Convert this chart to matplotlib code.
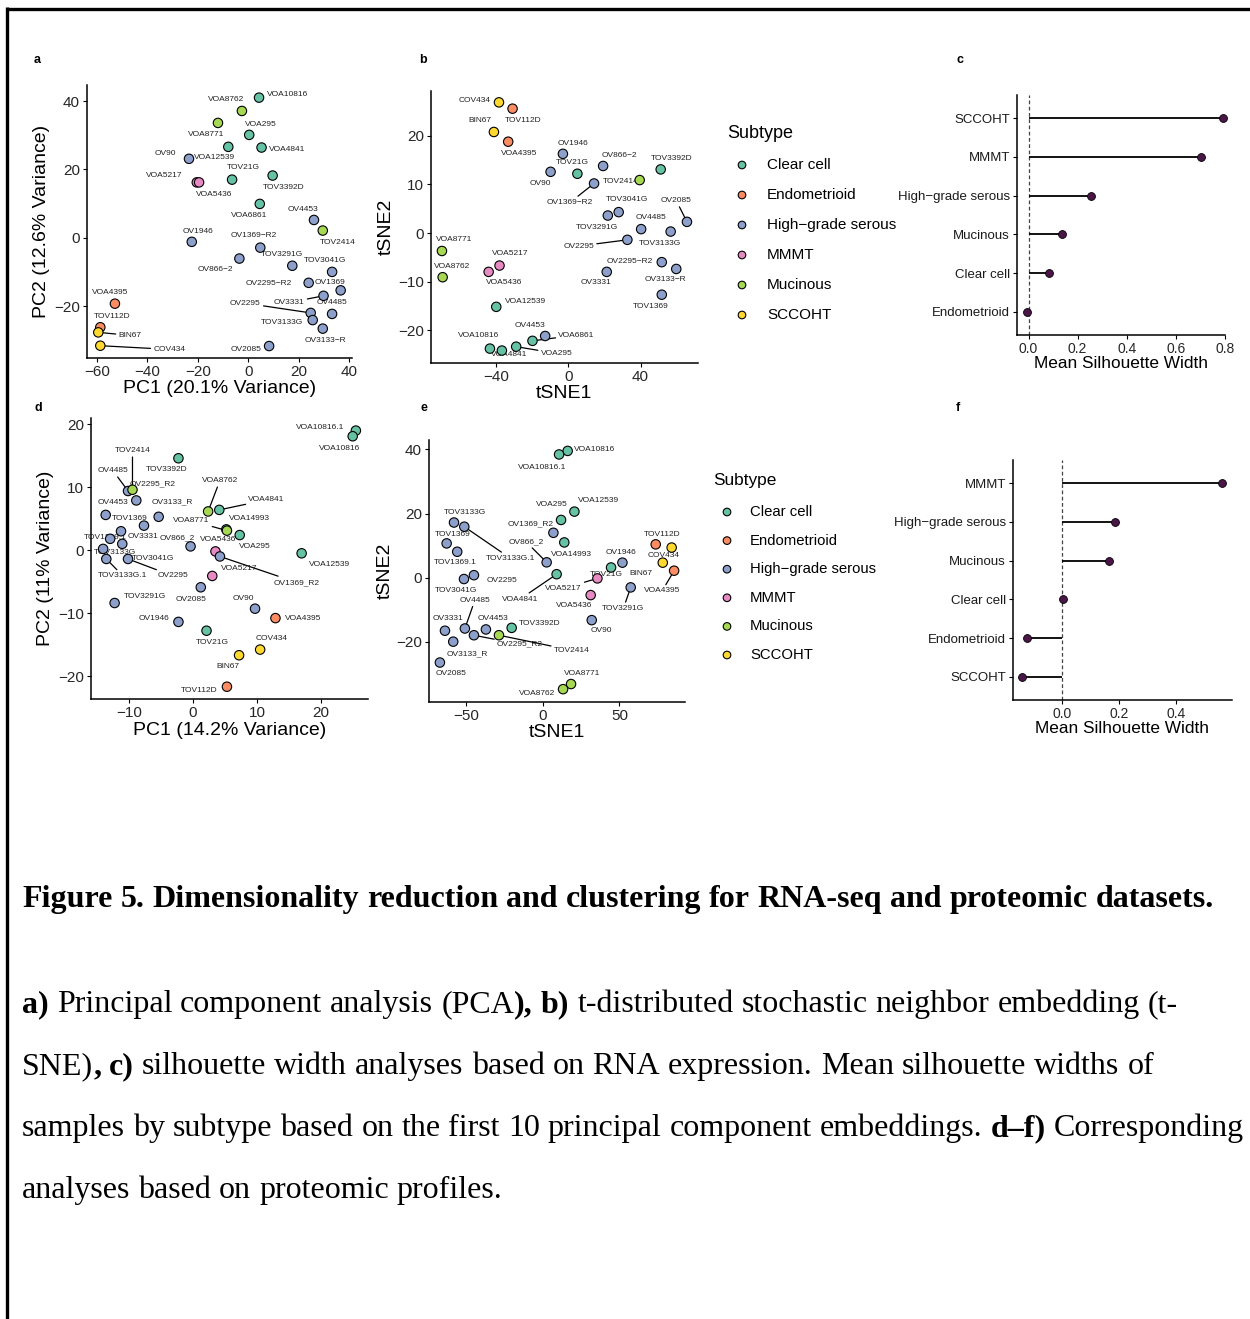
import matplotlib
matplotlib.use('Agg')
import matplotlib.pyplot as plt

plt.rcParams['font.family'] = ['Liberation Sans', 'DejaVu Sans']
plt.rcParams['axes.unicode_minus'] = True

# ---------------- data ----------------
SUBTYPES = ['Clear cell', 'Endometrioid', 'High−grade serous', 'MMMT', 'Mucinous', 'SCCOHT']
CODES = ['CC', 'EN', 'HGS', 'MM', 'MU', 'SC']
PALETTE = ['#66C2A5', '#FC8D62', '#8DA0CB', '#E78AC3', '#A6D854', '#FFD92F']

# panel a: RNA PCA
a_names = ['VOA10816', 'VOA8762', 'VOA8771', 'VOA295', 'VOA12539', 'VOA4841', 'OV90', 'VOA5217',
           'VOA5436', 'TOV21G', 'TOV3392D', 'VOA6861', 'OV4453', 'TOV2414', 'OV1946', 'OV1369−R2',
           'OV866−2', 'TOV3291G', 'TOV3041G', 'OV2295−R2', 'OV1369', 'OV3331', 'OV2295', 'OV4485',
           'TOV3133G', 'OV3133−R', 'OV2085', 'VOA4395', 'TOV112D', 'BIN67', 'COV434']
a_type = ['CC', 'MU', 'MU', 'CC', 'CC', 'CC', 'HGS', 'MM', 'MM', 'CC', 'CC', 'CC', 'HGS', 'MU', 'HGS',
          'HGS', 'HGS', 'HGS', 'HGS', 'HGS', 'HGS', 'HGS', 'HGS', 'HGS', 'HGS', 'HGS', 'HGS', 'EN',
          'EN', 'SC', 'SC']
a_pc1 = [4.3, -2.5, -12.0, 0.4, -7.9, 5.3, -23.5, -20.4, -19.5, -6.4, 9.7, 4.6, 26.1, 29.6, -22.4,
         4.8, -3.5, 17.5, 33.3, 24.0, 36.7, 29.9, 24.8, 33.3, 25.6, 29.6, 8.3, -52.9, -58.7, -59.5, -58.7]
a_pc2 = [41.0, 37.1, 33.6, 30.1, 26.6, 26.4, 23.1, 16.2, 16.2, 17.0, 18.2, 9.9, 5.2, 2.1, -1.2,
         -2.9, -6.1, -8.2, -10.0, -13.2, -15.4, -17.0, -22.0, -22.3, -24.1, -26.6, -31.7, -19.3,
         -26.2, -27.7, -31.6]

# panel b: RNA t-SNE
b_names = ['COV434', 'TOV112D', 'BIN67', 'VOA4395', 'OV1946', 'OV90', 'TOV21G', 'OV866−2',
           'OV1369−R2', 'TOV2414', 'TOV3392D', 'TOV3041G', 'TOV3291G', 'OV2085', 'OV4485',
           'TOV3133G', 'OV2295', 'OV2295−R2', 'OV3133−R', 'OV3331', 'TOV1369', 'VOA8771',
           'VOA8762', 'VOA5217', 'VOA5436', 'VOA12539', 'OV4453', 'VOA6861', 'VOA10816',
           'VOA4841', 'VOA295']
b_type = ['SC', 'EN', 'SC', 'EN', 'HGS', 'HGS', 'CC', 'HGS', 'HGS', 'MU', 'CC', 'HGS', 'HGS', 'HGS',
          'HGS', 'HGS', 'HGS', 'HGS', 'HGS', 'HGS', 'HGS', 'MU', 'MU', 'MM', 'MM', 'CC', 'HGS', 'CC',
          'CC', 'CC', 'CC']
b_t1 = [-38.2, -30.7, -41.0, -33.1, -2.9, -9.7, 5.1, 19.3, 14.3, 39.5, 51.1, 27.9, 21.9, 65.6, 40.3,
        56.6, 32.7, 51.7, 59.7, 21.3, 51.7, -69.7, -69.3, -37.9, -43.9, -39.7, -12.7, -19.7, -43.2,
        -36.6, -28.7]
b_t2 = [26.9, 25.6, 20.8, 18.8, 16.3, 12.6, 12.2, 13.8, 10.2, 10.9, 13.1, 4.3, 3.6, 2.3, 0.8, 0.3,
        -1.4, -6.0, -7.4, -8.0, -12.7, -3.7, -9.1, -6.7, -8.0, -15.2, -21.2, -22.2, -23.8, -24.2,
        -23.4]

# panel c: RNA silhouette (bottom to top)
c_cats = ['Endometrioid', 'Clear cell', 'Mucinous', 'High−grade serous', 'MMMT', 'SCCOHT']
c_sil = [-0.007, 0.085, 0.136, 0.255, 0.702, 0.791]

# panel d: proteomic PCA
d_names = ['VOA10816.1', 'VOA10816', 'TOV3392D', 'OV4485', 'TOV2414', 'OV2295_R2', 'OV4453',
           'OV3133_R', 'TOV1369', 'OV3331', 'TOV1369.1', 'TOV3041G', 'TOV3133G', 'TOV3133G.1',
           'OV2295', 'OV866_2', 'VOA5436', 'OV1369_R2', 'VOA5217', 'OV2085', 'TOV3291G', 'OV90',
           'VOA4395', 'OV1946', 'TOV21G', 'COV434', 'BIN67', 'TOV112D', 'VOA8762', 'VOA4841',
           'VOA14993', 'VOA8771', 'VOA295', 'VOA12539']
d_type = ['CC', 'CC', 'CC', 'HGS', 'MU', 'HGS', 'HGS', 'HGS', 'HGS', 'HGS', 'HGS', 'HGS', 'HGS',
          'HGS', 'HGS', 'HGS', 'MM', 'HGS', 'MM', 'HGS', 'HGS', 'HGS', 'EN', 'HGS', 'CC', 'SC', 'SC',
          'EN', 'MU', 'CC', 'CC', 'MU', 'CC', 'CC']
d_pc1 = [25.5, 25.0, -2.3, -10.2, -9.5, -8.9, -13.7, -5.4, -7.7, -11.3, -13.0, -11.1, -14.1, -13.6,
         -10.2, -0.4, 3.5, 4.2, 3.0, 1.2, -12.3, 9.7, 12.9, -2.3, 2.1, 10.5, 7.2, 5.3, 2.35, 4.1,
         5.2, 5.3, 7.3, 17.0]
d_pc2 = [19.0, 18.1, 14.6, 9.4, 9.6, 7.9, 5.6, 5.3, 3.9, 3.0, 1.8, 1.0, 0.2, -1.4, -1.4, 0.6, -0.2,
         -1.0, -4.1, -5.9, -8.4, -9.3, -10.8, -11.4, -12.8, -15.8, -16.7, -21.7, 6.15, 6.4, 3.3,
         3.1, 2.4, -0.5]

# panel e: proteomic t-SNE
e_names = ['VOA10816', 'VOA10816.1', 'VOA12539', 'VOA295', 'OV1369_R2', 'VOA14993', 'OV866_2',
           'VOA4841', 'TOV3133G', 'TOV3133G.1', 'TOV1369', 'TOV1369.1', 'TOV3041G', 'OV2295',
           'OV4485', 'OV3331', 'OV3133_R', 'OV2085', 'OV4453', 'OV2295_R2', 'TOV2414', 'TOV3392D',
           'TOV21G', 'VOA5217', 'VOA5436', 'OV90', 'OV1946', 'TOV3291G', 'TOV112D', 'COV434',
           'BIN67', 'VOA4395', 'VOA8771', 'VOA8762']
e_type = ['CC', 'CC', 'CC', 'CC', 'HGS', 'CC', 'HGS', 'CC', 'HGS', 'HGS', 'HGS', 'HGS', 'HGS', 'HGS',
          'HGS', 'HGS', 'HGS', 'HGS', 'HGS', 'HGS', 'MU', 'CC', 'CC', 'MM', 'MM', 'HGS', 'HGS', 'HGS',
          'EN', 'SC', 'SC', 'EN', 'MU', 'MU']
e_t1 = [16.3, 10.7, 20.7, 12.0, 7.0, 14.1, 2.6, 9.1, -57.8, -51.1, -62.6, -55.7, -51.3, -44.8,
        -50.7, -63.7, -58.3, -67.0, -37.0, -44.8, -28.5, -20.2, 44.6, 35.7, 31.3, 32.0, 52.0, 57.4,
        73.7, 84.1, 78.3, 85.7, 18.5, 13.3]
e_t2 = [39.5, 38.4, 20.6, 18.0, 14.0, 11.0, 4.8, 1.1, 17.2, 15.9, 10.7, 8.1, -0.4, 0.8, -15.8,
        -16.5, -19.9, -26.4, -16.1, -17.9, -17.9, -15.6, 3.2, -0.2, -5.4, -13.2, 4.7, -3.0, 10.4,
        9.4, 4.7, 2.2, -33.1, -34.7]

# panel f: proteomic silhouette (bottom to top)
f_cats = ['SCCOHT', 'Endometrioid', 'Clear cell', 'Mucinous', 'High−grade serous', 'MMMT']
f_sil = [-0.138, -0.120, 0.005, 0.164, 0.188, 0.561]

# ---------------- label layout (repel offsets in px, segment flag) ----------------
a_lab = [(28.7, 3.3, 0), (-16, 11, 0), (-12, -11.3, 0), (11.3, 10.7, 0), (-13.3, -11, 0),
         (26, -2.3, 0), (-23.3, 5.3, 0), (-32.7, 7, 0), (15.3, -11.7, 0), (11, 11.7, 0),
         (11.3, -11.7, 0), (-10.7, -11.7, 0), (-11, 10.7, 0), (15.3, -12, 0), (6.7, 10.7, 0),
         (-6.3, 12, 0), (-23.7, -11.3, 0), (-10.3, 11.7, 0), (-6.7, 11, 0), (-40, -0.7, 0),
         (-11, 7.7, 0), (-34.3, -6.7, 1), (-65.3, 9.7, 1), (-0.3, 11.3, 0), (-31, -2, 0),
         (2.7, -12.3, 0), (-23.3, -3.3, 0), (-4.7, 10.7, 0), (11.7, 10.3, 0), (31.7, -3, 1),
         (69, -3.7, 1)]
b_lab = [(-24, 1.7, 0), (10.7, -11.7, 0), (-14, 11, 0), (11.3, -11.7, 0), (10.3, 10.7, 0),
         (-10.3, -11.7, 0), (-5.3, 11.3, 0), (16, 10.7, 0), (-24, -19, 1), (-19.3, -1.3, 0),
         (10.7, 10.7, 0), (8.7, 12.3, 0), (-11, -12, 0), (-10.7, 21.3, 1), (10.3, 11.3, 0),
         (-11, -11.7, 0), (-48.7, -6.3, 1), (-31.7, 0.3, 0), (-11, -11, 0), (-11, -10.7, 0),
         (-11, -12, 0), (12, 11, 0), (9.3, 11, 0), (10.7, 12.3, 0), (15.3, -11, 0), (29, 5, 0),
         (-14.7, 10.7, 0), (44, 5.7, 1), (-11.3, 13.3, 0), (7.3, -3.7, 0), (40.3, -6.7, 1)]
d_lab = [(-36, 2.7, 0), (-13.3, -12.3, 0), (-11.3, -11.3, 0), (-15, 20.3, 1), (0, 39, 1),
         (16.7, 16.7, 0), (7.7, 12.3, 0), (13.3, 14.7, 0), (-14.3, 7, 0), (22, -5.7, 0),
         (-5, 1.7, 0), (31, -14.5, 0), (12, -3.5, 0), (16.7, -17, 1), (45, -17, 1),
         (-13, 8.3, 0), (3, 11.7, 0), (76.7, -26, 1), (27.3, 7.7, 0), (-9.3, -12.7, 0),
         (30, 6.7, 0), (-12, 10, 0), (28, -0.7, 0), (-24.3, 3, 0), (6, -12, 0), (11.3, 10.7, 0),
         (-11, -11.3, 0), (-27.3, -4, 0), (11.7, 30.7, 1), (47.3, 10, 1), (23.3, 11.3, 0),
         (-35.7, 10, 1), (15, -11.7, 0), (28.3, -10.7, 0)]
e_lab = [(27.3, 1.7, 0), (-17.3, -13, 0), (24, 10.7, 0), (-9.3, 15, 0), (-22.3, 9.3, 0),
         (7.3, -12, 0), (-20.7, 20.7, 1), (-36.7, -25, 1), (11, 10, 0), (46.3, -31.7, 1),
         (5.7, 9.3, 0), (-2.3, -11, 0), (-8, -11, 0), (27.7, -5, 0), (10, 28.3, 1), (3.3, 12.3, 0),
         (14, -11.7, 0), (10.7, -11, 0), (6.7, 11, 0), (46, -9, 1), (72.7, -15, 1), (28.3, 4.3, 0),
         (-4.3, -6.7, 0), (-34, -10, 1), (-16.7, -10.7, 0), (10, -10.7, 0), (-1.7, 10.3, 0),
         (-7.3, -21, 1), (6, 10, 0), (-7.7, -7.7, 0), (-22, -10.7, 0), (-12, -20.3, 1),
         (10.7, 10.7, 0), (-25.7, -4.3, 0)]

# ---------------- figure ----------------
W, H = 1250, 1319
fig = plt.figure(figsize=(W / 100, H / 100), dpi=100)
ov = fig.add_axes([0, 0, 1, 1])
ov.set_xlim(0, W)
ov.set_ylim(H, 0)
ov.axis('off')
ov.patch.set_alpha(0)

COLOR = dict(zip(CODES, PALETTE))
TXT = '#262626'


def px_axes(x0, y0, x1, y1):
    return fig.add_axes([x0 / W, 1 - y1 / H, (x1 - x0) / W, (y1 - y0) / H])


def style(ax, tick_size):
    for s in ['top', 'right']:
        ax.spines[s].set_visible(False)
    for s in ['left', 'bottom']:
        ax.spines[s].set_linewidth(1.1)
    ax.tick_params(length=3, width=0.8, labelsize=tick_size, labelcolor=TXT, pad=2)
    ax.patch.set_alpha(0)


def scatter_panel(ax, names, types, xs, ys, labs):
    cols = [COLOR[t] for t in types]
    ax.scatter(xs, ys, s=46, c=cols, edgecolors='black', linewidths=0.8, zorder=3, clip_on=False)
    for n, x, y, (dx, dy, sg) in zip(names, xs, ys, labs):
        ap = dict(arrowstyle='-', color='black', lw=0.9, shrinkA=0, shrinkB=0) if sg else None
        ax.annotate(n, (x, y), xytext=(dx * 0.72, dy * 0.72), textcoords='offset points',
                    ha='center', va='center', fontsize=6, color='#222222', zorder=2,
                    arrowprops=ap, annotation_clip=False)


def sil_panel(ax, cats, vals):
    ys = list(range(len(cats)))
    ax.axvline(0, color='#444444', lw=0.9, ls=(0, (3, 2)), zorder=1)
    ax.hlines(ys, 0, vals, color='black', lw=1.3, zorder=2)
    ax.scatter(vals, ys, s=32, color='#4A1648', edgecolors='black', linewidths=0.6, zorder=3,
               clip_on=False)
    ax.set_yticks(ys)
    ax.set_yticklabels(cats)
    ax.set_ylim(-0.6, len(cats) - 0.4)
    ax.set_xlabel('Mean Silhouette Width', fontsize=12.4, labelpad=0)
    ax.tick_params(axis='y', labelsize=9.5, labelcolor='#1a1a1a')
    ax.tick_params(axis='x', labelsize=10, labelcolor=TXT)


# panel a
ax = px_axes(86.7, 85, 352, 358)
style(ax, 11)
scatter_panel(ax, a_names, a_type, a_pc1, a_pc2, a_lab)
ax.set_xlim(-64.1, 41.2)
ax.set_ylim(-35.2, 44.7)
ax.set_xticks([-60, -40, -20, 0, 20, 40])
ax.set_yticks([-20, 0, 20, 40])
ax.set_xlabel('PC1 (20.1% Variance)', fontsize=14, labelpad=1)
ax.set_ylabel('PC2 (12.6% Variance)', fontsize=14, labelpad=3)

# panel b
ax = px_axes(430.7, 90.7, 698, 362.7)
style(ax, 11)
scatter_panel(ax, b_names, b_type, b_t1, b_t2, b_lab)
ax.set_xlim(-75.9, 71.7)
ax.set_ylim(-26.7, 29.3)
ax.set_xticks([-40, 0, 40])
ax.set_yticks([-20, -10, 0, 10, 20])
ax.set_xlabel('tSNE1', fontsize=14, labelpad=1)
ax.set_ylabel('tSNE2', fontsize=14, labelpad=2)

# panel c
ax = px_axes(1017, 95, 1225, 335)
style(ax, 10)
sil_panel(ax, c_cats, c_sil)
ax.set_xlim(-0.047, 0.795)
ax.set_xticks([0, 0.2, 0.4, 0.6, 0.8])
ax.set_xticklabels(['0.0', '0.2', '0.4', '0.6', '0.8'])

# panel d
ax = px_axes(91, 418, 368, 699.3)
style(ax, 11)
scatter_panel(ax, d_names, d_type, d_pc1, d_pc2, d_lab)
ax.set_xlim(-16.0, 27.4)
ax.set_ylim(-23.7, 21.0)
ax.set_xticks([-10, 0, 10, 20])
ax.set_yticks([-20, -10, 0, 10, 20])
ax.set_xlabel('PC1 (14.2% Variance)', fontsize=14, labelpad=1)
ax.set_ylabel('PC2 (11% Variance)', fontsize=14, labelpad=3)

# panel e
ax = px_axes(429, 440, 685, 701.7)
style(ax, 11)
scatter_panel(ax, e_names, e_type, e_t1, e_t2, e_lab)
ax.set_xlim(-74.1, 92.8)
ax.set_ylim(-38.6, 42.9)
ax.set_xticks([-50, 0, 50])
ax.set_yticks([-20, 0, 20, 40])
ax.set_xlabel('tSNE1', fontsize=14, labelpad=1)
ax.set_ylabel('tSNE2', fontsize=14, labelpad=2)

# panel f
ax = px_axes(1012.7, 460, 1231.7, 700)
style(ax, 10)
sil_panel(ax, f_cats, f_sil)
ax.set_xlim(-0.171, 0.594)
ax.set_xticks([0, 0.2, 0.4])
ax.set_xticklabels(['0.0', '0.2', '0.4'])


# legends
def legend_block(xt, yt, xm, xl, y0, step, tsize, lsize):
    ov.text(xt, yt, 'Subtype', fontsize=tsize, va='center', ha='left', color='black')
    ys = [y0 + i * step for i in range(len(SUBTYPES))]
    ov.scatter([xm] * len(SUBTYPES), ys, s=30, c=PALETTE, edgecolors='black', linewidths=0.8)
    for lab, y in zip(SUBTYPES, ys):
        ov.text(xl, y, lab, fontsize=lsize, va='center', ha='left', color='black')


legend_block(727, 134, 742, 767, 165, 30, 13, 11)
legend_block(713, 481, 727, 750, 512, 28.6, 12.4, 10.7)

# panel letters
for letter, (x, y) in zip('abcdef', [(37, 60), (423, 60), (960, 60), (38, 408), (424, 408), (958, 408)]):
    ov.text(x, y, letter, fontsize=9, fontweight='bold', ha='center', va='center')

# border
ov.plot([7, W], [8.5, 8.5], color='black', lw=2.4, solid_capstyle='butt')
ov.plot([6.7, 6.7], [7, H], color='black', lw=2.4, solid_capstyle='butt')

# caption
SERIF = ['Liberation Serif', 'DejaVu Serif']
renderer = fig.canvas.get_renderer()


def rich_line(x, y, parts, size):
    space = 0.25 * size * 100 / 72
    for txt, bold in parts:
        tokens = txt.split(' ')
        for i, tok in enumerate(tokens):
            if i > 0:
                x += space
            if tok == '':
                continue
            t = ov.text(x, y, tok, fontsize=size, family=SERIF,
                        fontweight='bold' if bold else 'normal', ha='left', va='baseline')
            x += t.get_window_extent(renderer=renderer).width


CAP = 23
rich_line(22, 907, [('Figure 5. Dimensionality reduction and clustering for RNA-seq and proteomic datasets.', True)], CAP)
rich_line(22, 1012, [('a)', True), (' Principal component analysis (PCA', False), ('), b)', True),
                     (' t-distributed stochastic neighbor embedding (t-', False)], CAP)
rich_line(22, 1074, [('SNE)', False), (', c)', True),
                     (' silhouette width analyses based on RNA expression. Mean silhouette widths of', False)], CAP)
rich_line(22, 1136, [('samples by subtype based on the first 10 principal component embeddings. ', False),
                     ('d–f)', True), (' Corresponding', False)], CAP)
rich_line(22, 1198, [('analyses based on proteomic profiles.', False)], CAP)

fig.savefig('out.png', dpi=100)
